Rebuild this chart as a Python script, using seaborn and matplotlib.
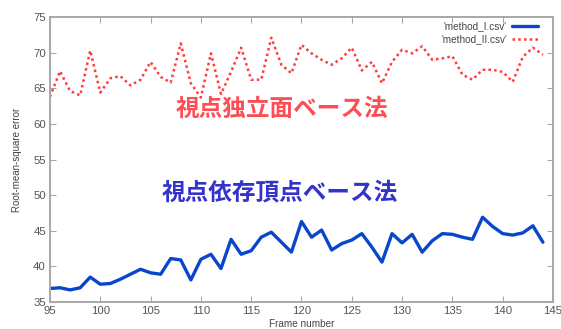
import numpy as np
import pandas as pd
import matplotlib
matplotlib.use("Agg")
import matplotlib.pyplot as plt
import seaborn as sns

frames = list(range(95, 145))

method_i = [36.9, 37.0, 36.7, 37.0, 38.5, 37.5, 37.6, 38.2, 38.9, 39.6,
            39.1, 38.9, 41.1, 40.9, 38.1, 41.0, 41.7, 39.7, 43.8, 41.7,
            42.2, 44.1, 44.8, 43.4, 42.0, 46.3, 44.1, 45.1, 42.3, 43.2,
            43.7, 44.6, 42.7, 40.6, 44.6, 43.3, 44.5, 42.0, 43.6, 44.6,
            44.5, 44.1, 43.8, 46.9, 45.6, 44.6, 44.4, 44.7, 45.7, 43.4]

method_ii = [63.8, 67.4, 64.6, 64.0, 70.3, 64.4, 66.4, 66.7, 65.4, 66.2,
             68.7, 66.6, 65.8, 71.3, 65.7, 63.7, 69.9, 64.2, 67.3, 70.7,
             66.2, 66.2, 72.1, 68.3, 67.1, 71.1, 69.9, 69.0, 68.3, 69.2,
             70.7, 67.5, 68.7, 65.7, 68.7, 70.4, 69.9, 70.9, 69.0, 69.2,
             69.5, 66.9, 66.2, 67.6, 67.6, 67.3, 65.9, 69.4, 70.7, 69.7]

series_names = ["'method_I.csv'", "'method_II.csv'"]
label_indep = "視点独立面ベース法"
label_dep = "視点依存頂点ベース法"

df = pd.DataFrame({
    "frame": frames * 2,
    "rmse": method_i + method_ii,
    "series": [series_names[0]] * len(frames) + [series_names[1]] * len(frames),
})

sns.set_theme(style="white")
plt.rcParams["font.family"] = ["Liberation Sans", "DejaVu Sans"]

fig = plt.figure(figsize=(5.61, 3.29), dpi=100)
ax = fig.add_axes([0.0891, 0.082, 0.8966, 0.8663])

palette = {series_names[0]: "#0a46cc", series_names[1]: "#ff3b3b"}
sns.lineplot(data=df[df.series == series_names[0]], x="frame", y="rmse",
             color=palette[series_names[0]], lw=2.4, ax=ax, label=series_names[0])
sns.lineplot(data=df[df.series == series_names[1]], x="frame", y="rmse",
             color=palette[series_names[1]], lw=1.8, ax=ax, label=series_names[1],
             linestyle=(0, (1, 1.3)))

ax.set_xlim(95, 145)
ax.set_ylim(35, 75)
ax.set_xticks(range(95, 146, 5))
ax.set_yticks(range(35, 76, 5))

for s in ax.spines.values():
    s.set_color("#a8a8a8")
    s.set_linewidth(1.4)
ax.tick_params(axis="both", which="both", direction="in", length=4, width=0.8,
               color="#a8a8a8", labelsize=8.2, labelcolor="#555555",
               top=True, right=True, bottom=True, left=True, pad=3)

ax.set_xlabel("Frame number", fontsize=7.2, color="#444444", labelpad=2)
ax.set_ylabel("Root-mean-square error", fontsize=7, color="#444444", labelpad=8)

leg = ax.legend(loc="upper right", bbox_to_anchor=(0.978, 1.0), frameon=False,
                markerfirst=False, fontsize=7.2, handlelength=2.6,
                handletextpad=0.5, borderaxespad=0.0, labelspacing=0.35)
for t in leg.get_texts():
    t.set_color("#444444")

cjk = ["Noto Sans CJK JP", "DejaVu Sans"]
ax.text(118.1, 62.1, label_indep, ha="center", va="center", fontsize=17,
        fontweight="bold", color="#ff4d55", family=cjk)
ax.text(117.8, 50.4, label_dep, ha="center", va="center", fontsize=17,
        fontweight="bold", color="#3333cc", family=cjk)

fig.savefig("out.png", dpi=100)
